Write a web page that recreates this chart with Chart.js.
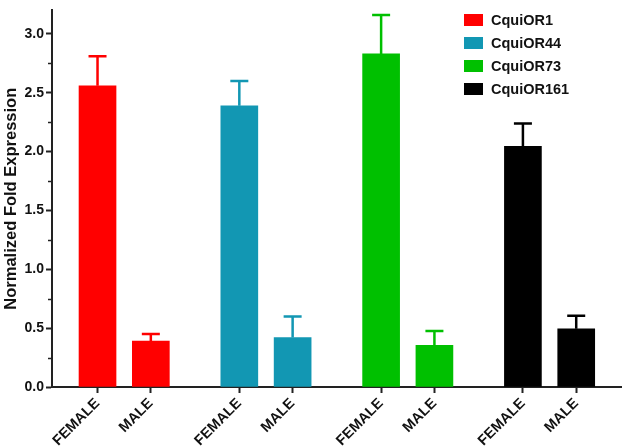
<!DOCTYPE html>
<html>
<head>
<meta charset="utf-8">
<script src="https://cdn.jsdelivr.net/npm/chart.js@4.4.1/dist/chart.umd.min.js"></script>
<style>
  html, body { margin: 0; padding: 0; background: #fff; }
  #wrap { width: 629px; height: 448px; }
</style>
</head>
<body>
<div id="wrap"><canvas id="foldChart"></canvas></div>
<script>
// data
const genes = ["CquiOR1", "CquiOR44", "CquiOR73", "CquiOR161"];
const sexes = ["FEMALE", "MALE"];
const colors = ["#ff0000", "#1297b3", "#00c000", "#000000"];
const meanFemale = [2.56, 2.39, 2.83, 2.045];
const meanMale = [0.39, 0.42, 0.355, 0.495];
const semFemale = [0.25, 0.21, 0.33, 0.195];
const semMale = [0.06, 0.18, 0.12, 0.11];
const yTicks = [0, 0.5, 1.0, 1.5, 2.0, 2.5, 3.0];

// x layout: bars inside a group 1 unit apart, groups GROUP_STEP apart
const GROUP_STEP = 2.66;
function barPos(g, s) { return g * GROUP_STEP + s; }

const xTickValues = [];
genes.forEach((g, gi) => sexes.forEach((s, si) => xTickValues.push(barPos(gi, si))));

const datasets = genes.map((gene, gi) => ({
  label: gene,
  data: [
    { x: barPos(gi, 0), y: meanFemale[gi] },
    { x: barPos(gi, 1), y: meanMale[gi] },
  ],
  sem: [semFemale[gi], semMale[gi]],
  backgroundColor: colors[gi],
  borderWidth: 0,
  barThickness: 37,
  grouped: false,
}));

const FONT = "'Liberation Sans', Arial, sans-serif";

// upper error bars only, like the original
const errorBars = {
  id: "errorBars",
  afterDatasetsDraw(chart) {
    const ctx = chart.ctx;
    const yScale = chart.scales.y;
    chart.data.datasets.forEach((ds, di) => {
      const meta = chart.getDatasetMeta(di);
      meta.data.forEach((bar, i) => {
        const top = yScale.getPixelForValue(ds.data[i].y + ds.sem[i]);
        ctx.save();
        ctx.strokeStyle = ds.backgroundColor;
        ctx.lineWidth = 2.5;
        ctx.beginPath();
        ctx.moveTo(bar.x, bar.y);
        ctx.lineTo(bar.x, top);
        ctx.moveTo(bar.x - 9, top);
        ctx.lineTo(bar.x + 9, top);
        ctx.stroke();
        ctx.restore();
      });
    });
  },
};

// minor ticks between the labelled ones
const minorTicks = {
  id: "minorTicks",
  afterDraw(chart) {
    const ctx = chart.ctx;
    const y = chart.scales.y;
    const left = chart.chartArea.left;
    ctx.save();
    ctx.strokeStyle = "#222";
    ctx.lineWidth = 1.5;
    for (let i = 0; i < yTicks.length; i++) {
      const v = yTicks[i] + 0.25;
      if (v > y.max) break;
      const py = Math.round(y.getPixelForValue(v)) + 0.5;
      ctx.beginPath();
      ctx.moveTo(left - 4, py);
      ctx.lineTo(left, py);
      ctx.stroke();
    }
    ctx.restore();
  },
};

// legend box in the top right corner
const cornerLegend = {
  id: "cornerLegend",
  afterDraw(chart) {
    const ctx = chart.ctx;
    ctx.save();
    ctx.font = "bold 14.5px " + FONT;
    ctx.textBaseline = "middle";
    chart.data.datasets.forEach((ds, i) => {
      const y = 14 + i * 23;
      ctx.fillStyle = ds.backgroundColor;
      ctx.fillRect(464, y, 19, 12);
      ctx.fillStyle = "#111";
      ctx.fillText(ds.label, 491, y + 6.5);
    });
    ctx.restore();
  },
};

const ctx = document.getElementById("foldChart").getContext("2d");
new Chart(ctx, {
  type: "bar",
  data: { datasets: datasets },
  options: {
    responsive: true,
    maintainAspectRatio: false,
    animation: false,
    layout: { padding: { top: 8, right: 8, left: 0, bottom: 0 } },
    plugins: {
      legend: { display: false },
      tooltip: { enabled: false },
    },
    scales: {
      x: {
        type: "linear",
        offset: false,
        min: -0.854,
        max: 9.82,
        afterBuildTicks: (scale) => {
          scale.ticks = xTickValues.map((v) => ({ value: v }));
        },
        afterFit: (scale) => {
          scale.height = 61;
          scale.paddingLeft = 0;
          scale.paddingRight = 0;
        },
        ticks: {
          autoSkip: false,
          minRotation: 45,
          maxRotation: 45,
          padding: 2,
          color: "#111",
          font: { family: FONT, size: 14.5, weight: "bold" },
          callback: (value, index) => sexes[index % 2],
        },
        grid: {
          offset: false,
          drawOnChartArea: false,
          tickLength: 6,
          tickWidth: 2,
          tickColor: "#222",
        },
        border: { display: true, width: 2, color: "#222" },
      },
      y: {
        min: 0,
        max: 3.2,
        afterBuildTicks: (scale) => {
          scale.ticks = yTicks.map((v) => ({ value: v }));
        },
        afterFit: (scale) => { scale.width = 52; },
        ticks: {
          padding: 2,
          color: "#111",
          font: { family: FONT, size: 14, weight: "bold" },
          callback: (value) => value.toFixed(1),
        },
        grid: {
          drawOnChartArea: false,
          tickLength: 6,
          tickWidth: 2,
          tickColor: "#222",
        },
        border: { display: true, width: 2, color: "#222" },
        title: {
          display: true,
          text: "Normalized Fold Expression",
          color: "#111",
          padding: { top: 2, bottom: 0 },
          font: { family: FONT, size: 16.5, weight: "bold" },
        },
      },
    },
  },
  plugins: [errorBars, minorTicks, cornerLegend],
});
</script>
</body>
</html>
